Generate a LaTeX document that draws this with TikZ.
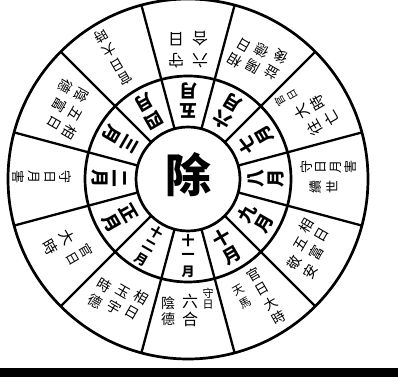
\documentclass[tikz,border=0pt]{standalone}
\usepackage{fontspec}
\newfontfamily\cjk{Noto Sans CJK TC}
\begin{document}
\begin{tikzpicture}[x=1pt,y=1pt,
  ring/.style={line width=2.7pt},
  divider/.style={line width=2.3pt},
  glyph/.style={inner sep=0pt, font=\cjk\fontsize{#1}{#1}\selectfont},
  boldglyph/.style={inner sep=0pt, font=\cjk\bfseries\fontsize{#1}{#1}\selectfont}]
\useasboundingbox (0,0) rectangle (398,387);
\coordinate (C) at (188,208);
% rings
\draw[ring] (C) circle (180pt);
\draw[ring] (C) circle (103pt);
\draw[ring] (C) circle (52pt);
% dividers
\foreach \a in {15,45,...,345}
  \draw[divider, shift={(C)}] (\a:52pt) -- (\a:180pt);
% bottom band
\fill (0,10) rectangle (398,19);
% centre
\node[boldglyph=46] (chu) at ([yshift=4pt]C) {除};
% a column of characters, reading outward, tops toward the centre
% #1 phi, #2 name, #3 first radius, #4 tangential offset, #5 style, #6 step, #7 chars
\newcommand{\ocol}[7]{%
  \begin{scope}[shift={(C)}, rotate=#1+90]
    \foreach \ch [count=\i from 0] in {#7}
      \node[#5, rotate=#1+90] (#2-\i) at (#4,{-(#3+\i*#6)}) {\ch};
  \end{scope}}
% months (phi = 90 - theta)
\ocol{90}{m5}{68}{0}{boldglyph=18}{20}{五,月}
\ocol{60}{m6}{68}{0}{boldglyph=18}{20}{六,月}
\ocol{30}{m7}{68}{0}{boldglyph=18}{20}{七,月}
\ocol{0}{m8}{68}{0}{boldglyph=18}{20}{八,月}
\ocol{-30}{m9}{68}{0}{boldglyph=18}{20}{九,月}
\ocol{-60}{m10}{68}{0}{boldglyph=18}{20}{十,月}
\ocol{-90}{m11}{62}{0}{boldglyph=13}{15.5}{十,一,月}
\ocol{-120}{m12}{62}{0}{boldglyph=13}{15.5}{十,二,月}
\ocol{-150}{m1}{68}{0}{boldglyph=18}{20}{正,月}
\ocol{180}{m2}{68}{0}{boldglyph=18}{20}{二,月}
\ocol{150}{m3}{68}{0}{boldglyph=18}{20}{三,月}
\ocol{120}{m4}{68}{0}{boldglyph=18}{20}{四,月}
% theta 0 : 五月
\ocol{90}{o5a}{118}{12}{glyph=16}{22}{守,日}
\ocol{90}{o5b}{118}{-12}{glyph=16}{22}{六,合}
% theta 30 : 六月
\ocol{60}{o6a}{126}{19}{glyph=14}{18}{相,日}
\ocol{60}{o6b}{130}{0}{glyph=14}{18}{陽,德}
\ocol{60}{o6c}{134}{-19}{glyph=14}{18}{益,後}
% theta 60 : 七月
\ocol{30}{o7a}{119}{21}{glyph=10.5}{13.5}{官,日}
\ocol{30}{o7b}{132}{1}{glyph=15}{19}{大,時}
\ocol{30}{o7c}{136}{-19}{glyph=15}{19}{往,亡}
% theta 90 : 八月
\ocol{0}{o8a}{118}{12}{glyph=13}{15}{守,日,月,害}
\ocol{0}{o8b}{128}{-8}{glyph=13}{16}{續,世}
% theta 120 : 九月
\ocol{-30}{o9a}{126}{19}{glyph=14}{18}{相,日}
\ocol{-30}{o9b}{130}{0}{glyph=14}{18}{五,富}
\ocol{-30}{o9c}{134}{-19}{glyph=14}{18}{敬,安}
% theta 150 : 十月
\ocol{-60}{o10a}{116}{9}{glyph=13.5}{16.5}{官,日,大,時}
\ocol{-60}{o10b}{122}{-12}{glyph=11.5}{14.5}{天,馬}
% theta 180 : 十一月
\ocol{-90}{o11a}{114}{20}{glyph=11}{12}{守,日}
\ocol{-90}{o11b}{122}{2}{glyph=16}{18}{六,合}
\ocol{-90}{o11c}{124}{-20}{glyph=14}{16}{陰,德}
% theta 210 : 十二月
\ocol{-120}{o12a}{126}{19}{glyph=14}{18}{相,日}
\ocol{-120}{o12b}{130}{0}{glyph=14}{18}{玉,宇}
\ocol{-120}{o12c}{134}{-19}{glyph=14}{18}{時,德}
% theta 240 : 正月
\ocol{-150}{o1a}{124}{11}{glyph=13}{16}{官,日}
\ocol{-150}{o1b}{134}{-10}{glyph=15}{19}{大,時}
% theta 270 : 二月
\ocol{180}{o2a}{122}{-2}{glyph=13}{16}{守,日,月,害}
% theta 300 : 三月
\ocol{150}{o3a}{126}{19}{glyph=14}{18}{相,日}
\ocol{150}{o3b}{130}{0}{glyph=14}{18}{五,富}
\ocol{150}{o3c}{134}{-19}{glyph=14}{18}{陰,德}
% theta 330 : 四月
\ocol{120}{o4a}{118}{4}{glyph=13.5}{16.5}{官,日,大,時}
\end{tikzpicture}
\end{document}
